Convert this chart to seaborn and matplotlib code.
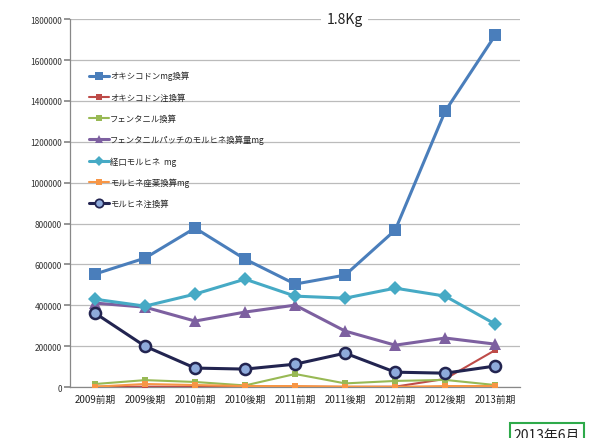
import pandas as pd
import matplotlib
matplotlib.use("Agg")
import matplotlib.pyplot as plt
import seaborn as sns
from matplotlib.lines import Line2D
from matplotlib.ticker import FixedLocator

PERIODS = ["2009前期", "2009後期", "2010前期", "2010後期", "2011前期",
           "2011後期", "2012前期", "2012後期", "2013前期"]

oxy_mg = [553000, 631000, 778000, 626000, 504000, 548000, 768000, 1350000, 1722000]
oxy_inj = [2000, 2000, 2000, 2000, 2000, 1000, 2000, 40000, 181000]
fentanyl = [15000, 34000, 25000, 8000, 64000, 18000, 30000, 35000, 10000]
fent_patch = [411000, 391000, 323000, 367000, 401000, 274000, 205000, 240000, 210000]
oral_mor = [430000, 396000, 455000, 528000, 445000, 435000, 484000, 445000, 308000]
mor_supp = [2000, 15000, 10000, 5000, 5000, 2000, 1000, 5000, 5000]
mor_inj = [362000, 200000, 93000, 88000, 112000, 166000, 73000, 68000, 103000]

SERIES = [
    # label, values, color, marker, size, lw, face
    ("オキシコドンmg換算", oxy_mg, "#4a7ebb", "s", 8, 2.2, None),
    ("オキシコドン注換算", oxy_inj, "#be4b48", "s", 5, 1.5, None),
    ("フェンタニル換算", fentanyl, "#98b954", "s", 5, 1.5, None),
    ("フェンタニルパッチのモルヒネ換算量mg", fent_patch, "#7d60a0", "^", 8, 2.2, None),
    ("経口モルヒネ  mg", oral_mor, "#46aac5", "D", 7, 2.2, None),
    ("モルヒネ座薬換算mg", mor_supp, "#f79646", "s", 5, 1.5, None),
    ("モルヒネ注換算", mor_inj, "#222450", "o", 8, 2.2, "#8eaadb"),
]

sns.set_theme(style="white")
plt.rcParams['font.family'] = ['Noto Sans CJK JP', 'DejaVu Sans']

fig = plt.figure(figsize=(5.98, 4.39), dpi=100)
ax = fig.add_axes([0.117, 0.116, 0.753, 0.838])

handles = []
for label, vals, color, marker, ms, lw, face in SERIES:
    df = pd.DataFrame({"period": PERIODS, "value": vals})
    fc = face if face else color
    mew = 1.8 if face else 0
    sns.lineplot(data=df, x="period", y="value", ax=ax, color=color, linewidth=lw,
                 marker=marker, markersize=ms, markerfacecolor=fc,
                 markeredgecolor=color, markeredgewidth=mew, sort=False, zorder=3)
    handles.append(Line2D([0], [0], color=color, linewidth=lw, marker=marker,
                          markersize=ms * 0.75, markerfacecolor=fc,
                          markeredgecolor=color, markeredgewidth=mew * 0.7))

ax.set_xlim(-0.5, 8.5)
ax.set_ylim(0, 1800000)
ax.set_yticks(range(0, 1800001, 200000))
ax.set_yticklabels([str(v) for v in range(0, 1800001, 200000)], fontsize=6, color="#333333")
ax.yaxis.grid(True, color="#bbbbbb", linewidth=0.9)
ax.set_axisbelow(True)
ax.tick_params(axis="x", which="major", length=0, labelsize=7, colors="#222222", pad=5)
ax.xaxis.set_minor_locator(FixedLocator([i - 0.5 for i in range(10)]))
ax.tick_params(axis="x", which="minor", length=4, color="#888888", direction="out")
ax.tick_params(axis="y", which="major", length=4, color="#888888", direction="out",
               left=True, pad=2)
ax.set_xlabel("")
ax.set_ylabel("")
for side in ["top", "right"]:
    ax.spines[side].set_visible(False)
for side in ["left", "bottom"]:
    ax.spines[side].set_color("#888888")
    ax.spines[side].set_linewidth(0.9)

leg = ax.legend(handles, [s[0] for s in SERIES], loc="upper left",
                bbox_to_anchor=(0.035, 0.868), frameon=False, fontsize=6,
                handlelength=2.4, labelspacing=1.45, handletextpad=0.1,
                borderaxespad=0)

ax.text(0.61, 1.0, "1.8Kg", transform=ax.transAxes, ha="center", va="center",
        fontsize=10, color="#222222",
        bbox=dict(facecolor="white", edgecolor="none", pad=4))

fig.text(0.859, -0.008, "2013年6月", fontsize=10, color="#222222", ha="left", va="bottom",
         bbox=dict(facecolor="white", edgecolor="#2eaa4a", linewidth=1.5, pad=3))

fig.savefig("out.png", dpi=100)
